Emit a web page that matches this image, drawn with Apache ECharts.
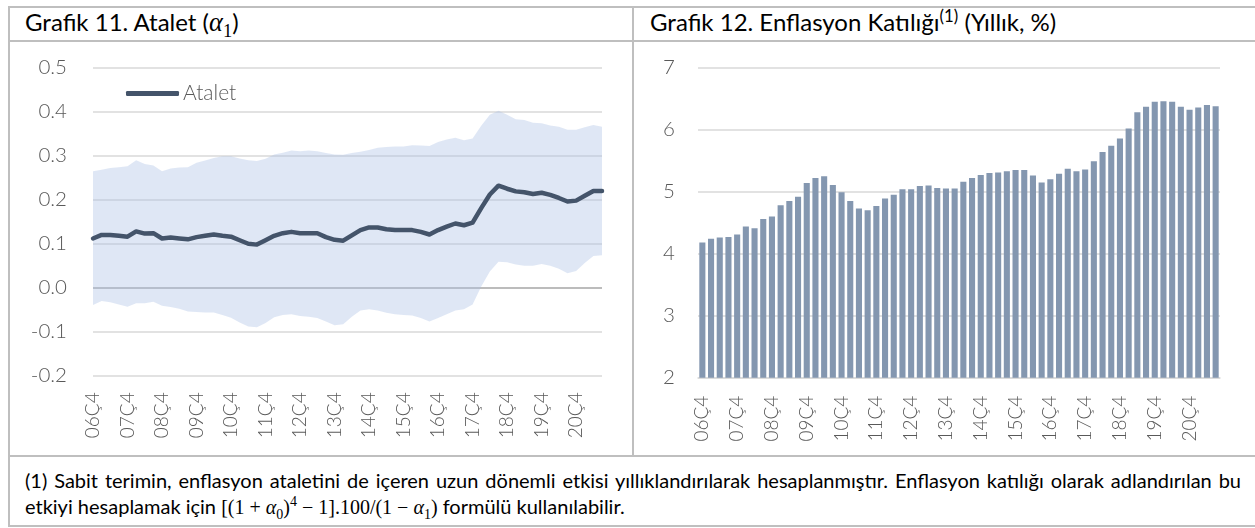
<!DOCTYPE html>
<html>
<head>
<meta charset="utf-8">
<script src="https://cdn.jsdelivr.net/npm/echarts@6/dist/echarts.min.js"></script>
<style>
    html, body { margin: 0; padding: 0; background: #fff; }
    body { width: 1255px; height: 528px; position: relative; overflow: hidden; font-family: Lato, "Noto Sans", sans-serif; }
    .ln { position: absolute; background: #bfbfbf; }
    .title { position: absolute; top: 10px; font-size: 24px; line-height: 24px; color: #000; white-space: nowrap; }
    .math { font-family: "Liberation Serif", "DejaVu Serif", serif; }
    .title .math { font-size: 110%; }
    .chart { position: absolute; top: 0; height: 456px; }
    #note { position: absolute; left: 25px; top: 467px; width: 1216px; font-size: 20px; line-height: 26px; color: #000; text-align: justify; text-align-last: left; }
    sub, sup { font-size: 70%; line-height: 0; }
</style>
</head>
<body>
<div class="ln" style="left:8px;top:6px;width:1247px;height:2px"></div>
<div class="ln" style="left:8px;top:40px;width:1247px;height:2px"></div>
<div class="ln" style="left:8px;top:6px;width:2px;height:521px"></div>
<div class="ln" style="left:632px;top:6px;width:2px;height:451px"></div>
<div class="ln" style="left:8px;top:455px;width:1247px;height:2px"></div>
<div class="ln" style="left:8px;top:525px;width:1247px;height:2px"></div>

<div class="title" style="left:25px">Grafik 11. Atalet (<span class="math"><i>α</i><sub>1</sub></span>)</div>
<div class="title" style="left:650px">Grafik 12. Enflasyon Katılığı<sup>(1)</sup> (Yıllık, %)</div>

<div id="ataletChart" class="chart" style="left:0;width:632px"></div>
<div id="katilikChart" class="chart" style="left:634px;width:621px"></div>

<div id="note">(1) Sabit terimin, enflasyon ataletini de içeren uzun dönemli etkisi yıllıklandırılarak hesaplanmıştır. Enflasyon katılığı olarak adlandırılan bu etkiyi hesaplamak için <span class="math">[(1 + <i>α</i><sub>0</sub>)<sup>4</sup> − 1].100/(1 − <i>α</i><sub>1</sub>)</span> formülü kullanılabilir.</div>

<script>
const quarters = [
    '06Ç4',
    '07Ç1', '07Ç2', '07Ç3', '07Ç4',
    '08Ç1', '08Ç2', '08Ç3', '08Ç4',
    '09Ç1', '09Ç2', '09Ç3', '09Ç4',
    '10Ç1', '10Ç2', '10Ç3', '10Ç4',
    '11Ç1', '11Ç2', '11Ç3', '11Ç4',
    '12Ç1', '12Ç2', '12Ç3', '12Ç4',
    '13Ç1', '13Ç2', '13Ç3', '13Ç4',
    '14Ç1', '14Ç2', '14Ç3', '14Ç4',
    '15Ç1', '15Ç2', '15Ç3', '15Ç4',
    '16Ç1', '16Ç2', '16Ç3', '16Ç4',
    '17Ç1', '17Ç2', '17Ç3', '17Ç4',
    '18Ç1', '18Ç2', '18Ç3', '18Ç4',
    '19Ç1', '19Ç2', '19Ç3', '19Ç4',
    '20Ç1', '20Ç2', '20Ç3', '20Ç4',
    '21Ç1', '21Ç2', '21Ç3'
];

// Grafik 11: atalet katsayısı ve güven bandı
const atalet = [
    0.111, 0.119, 0.119, 0.117, 0.115, 0.127, 0.122, 0.123, 0.111, 0.113,
    0.111, 0.109, 0.114, 0.117, 0.120, 0.117, 0.115, 0.107, 0.099, 0.097,
    0.107, 0.117, 0.123, 0.126, 0.123, 0.123, 0.123, 0.114, 0.108, 0.106,
    0.118, 0.130, 0.136, 0.136, 0.132, 0.130, 0.130, 0.130, 0.126, 0.120,
    0.130, 0.138, 0.145, 0.141, 0.147, 0.180, 0.211, 0.231, 0.224, 0.218,
    0.216, 0.212, 0.215, 0.210, 0.203, 0.195, 0.197, 0.208, 0.219, 0.219
];
const bandUpper = [
    0.264, 0.267, 0.271, 0.273, 0.275, 0.289, 0.280, 0.277, 0.264, 0.270,
    0.272, 0.273, 0.283, 0.288, 0.294, 0.298, 0.298, 0.293, 0.289, 0.287,
    0.292, 0.302, 0.306, 0.311, 0.309, 0.311, 0.309, 0.305, 0.302, 0.301,
    0.305, 0.308, 0.312, 0.317, 0.319, 0.320, 0.320, 0.323, 0.322, 0.321,
    0.330, 0.336, 0.340, 0.334, 0.338, 0.367, 0.392, 0.401, 0.392, 0.382,
    0.380, 0.374, 0.373, 0.368, 0.365, 0.358, 0.358, 0.364, 0.369, 0.365
];
const bandLower = [
    -0.040, -0.031, -0.034, -0.039, -0.044, -0.036, -0.036, -0.033, -0.042, -0.045,
    -0.049, -0.055, -0.056, -0.057, -0.057, -0.063, -0.069, -0.080, -0.089, -0.091,
    -0.081, -0.068, -0.063, -0.061, -0.065, -0.067, -0.070, -0.078, -0.086, -0.084,
    -0.067, -0.053, -0.050, -0.053, -0.058, -0.061, -0.063, -0.064, -0.070, -0.078,
    -0.070, -0.061, -0.053, -0.050, -0.039, 0.002, 0.036, 0.058, 0.057, 0.052,
    0.049, 0.049, 0.053, 0.049, 0.042, 0.032, 0.037, 0.055, 0.071, 0.073
];

// Grafik 12: enflasyon katılığı (yıllık, %)
const katilik = [
    4.18, 4.24, 4.26, 4.27, 4.31, 4.44, 4.41, 4.56, 4.60, 4.78,
    4.85, 4.92, 5.14, 5.22, 5.25, 5.11, 4.99, 4.85, 4.73, 4.70,
    4.77, 4.89, 4.95, 5.04, 5.04, 5.09, 5.10, 5.06, 5.05, 5.05,
    5.16, 5.22, 5.27, 5.30, 5.31, 5.33, 5.35, 5.35, 5.26, 5.15,
    5.20, 5.29, 5.37, 5.33, 5.36, 5.49, 5.64, 5.74, 5.86, 6.02,
    6.28, 6.37, 6.45, 6.46, 6.45, 6.37, 6.32, 6.36, 6.40, 6.38
];

const labelColor = '#595959';
const gridColor = '#d9d9d9';
const labelFont = { fontFamily: 'Lato', fontWeight: 300, color: labelColor };

const ataletChart = echarts.init(document.getElementById('ataletChart'));
const katilikChart = echarts.init(document.getElementById('katilikChart'));

// bant genişliği: üst sınır - alt sınır, alt sınırın üstüne yığılır
const bandWidth = bandUpper.map((v, i) => +(v - bandLower[i]).toFixed(3));

ataletChart.setOption({
    animation: false,
    grid: { left: 93, top: 67.3, width: 509, height: 308 },
    legend: {
        left: 126, top: 83, padding: 0,
        icon: 'roundRect', itemWidth: 53, itemHeight: 5, itemGap: 5,
        data: ['Atalet'],
        textStyle: Object.assign({ fontSize: 21, padding: [0, 0, 0, -1] }, labelFont)
    },
    xAxis: {
        type: 'category',
        data: quarters,
        boundaryGap: false,
        axisLine: { show: false },
        axisTick: { show: false },
        axisLabel: Object.assign({ interval: 3, rotate: 90, fontSize: 19, margin: 17 }, labelFont)
    },
    yAxis: {
        type: 'value',
        min: -0.2, max: 0.5, interval: 0.1,
        axisLabel: Object.assign({ fontSize: 20.5, margin: 26, formatter: v => v.toFixed(1) }, labelFont),
        splitLine: {
            lineStyle: {
                width: 1.5,
                color: [gridColor, gridColor, '#a6a6a6', gridColor, gridColor, gridColor, gridColor, gridColor]
            }
        }
    },
    series: [
        {
            name: 'alt', type: 'line', data: bandLower,
            stack: 'bant', stackStrategy: 'all',
            symbol: 'none', silent: true,
            lineStyle: { opacity: 0 }
        },
        {
            name: 'bant', type: 'line', data: bandWidth,
            stack: 'bant', stackStrategy: 'all',
            symbol: 'none', silent: true,
            lineStyle: { opacity: 0 },
            areaStyle: { color: 'rgba(172,192,228,0.38)', opacity: 1 }
        },
        {
            name: 'Atalet', type: 'line', data: atalet,
            symbol: 'none',
            itemStyle: { color: '#44546a' },
            lineStyle: { color: '#44546a', width: 4.5, cap: 'round', join: 'round' },
            z: 5
        }
    ]
});

katilikChart.setOption({
    animation: false,
    grid: { left: 64, top: 67.7, width: 522, height: 310 },
    xAxis: {
        type: 'category',
        data: quarters,
        axisLine: { lineStyle: { color: gridColor, width: 1.5 } },
        axisTick: { show: false },
        axisLabel: Object.assign({ interval: 3, rotate: 90, fontSize: 19, margin: 18 }, labelFont)
    },
    yAxis: {
        type: 'value',
        min: 2, max: 7, interval: 1,
        axisLabel: Object.assign({ fontSize: 20.5, margin: 23 }, labelFont),
        splitLine: { lineStyle: { color: gridColor, width: 1.5 } }
    },
    series: [{
        name: 'Enflasyon Katılığı', type: 'bar', data: katilik,
        itemStyle: { color: '#8497b0' },
        barCategoryGap: '30%'
    }]
});

window.onresize = function () {
    ataletChart.resize();
    katilikChart.resize();
};
</script>
</body>
</html>
